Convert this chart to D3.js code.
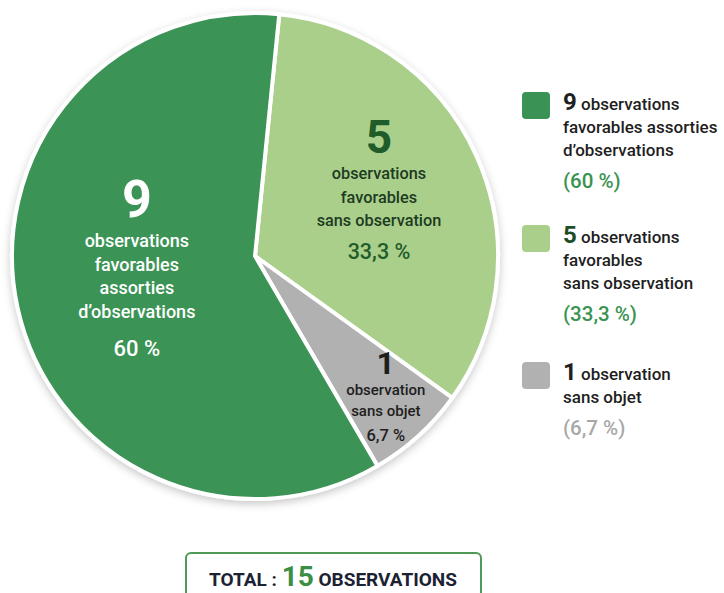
<!DOCTYPE html>
<html>
<head>
<meta charset="utf-8">
<script src="https://cdn.jsdelivr.net/npm/d3@7"></script>
<style>
  html, body { margin: 0; padding: 0; background: #fff; }
  svg text { font-family: Roboto, "Noto Sans", sans-serif; }
</style>
</head>
<body>
<svg id="chart"></svg>
<script>
// slices, in drawing order (clockwise from the top)
let counts = [5, 1, 9];
let percents = ["33,3 %", "6,7 %", "60 %"];
let sliceLines = [
    ["observations", "favorables", "sans observation"],
    ["observation", "sans objet"],
    ["observations", "favorables", "assorties", "d’observations"]
];
let colour = ["#aacf8b", "#b1b1b1", "#3a9355"];

// legend, in its own order (index into the slice arrays)
let legendOrder = [2, 0, 1];
let legendLines = [
    ["observations", "favorables assorties", "d’observations"],
    ["observations", "favorables", "sans observation"],
    ["observation", "sans objet"]
];

let width = 724,
    height = 593,
    radius = 243,
    cx = 255,
    cy = 256;

let svg = d3.select("#chart")
    .attr("width", width)
    .attr("height", height);

let defs = svg.append("defs");
let shadow = defs.append("filter").attr("id", "shadow")
    .attr("x", "-10%").attr("y", "-10%").attr("width", "120%").attr("height", "120%");
shadow.append("feDropShadow")
    .attr("dx", 0).attr("dy", 3).attr("stdDeviation", 4)
    .attr("flood-color", "#000").attr("flood-opacity", 0.22);

let startAngle = 0.1;

let pie = d3.pie()
    .value(d => d)
    .sort(null)
    .startAngle(startAngle)
    .endAngle(startAngle + 2 * Math.PI);

let arc = d3.arc()
    .innerRadius(0)
    .outerRadius(radius);

let g = svg.append("g")
    .attr("transform", "translate(" + cx + "," + cy + ")");

let arcs = pie(counts);

g.append("g").attr("filter", "url(#shadow)")
    .selectAll("path")
    .data(arcs)
    .enter().append("path")
    .attr("d", arc)
    .attr("fill", (d, i) => colour[i])
    .attr("stroke", "#fff")
    .attr("stroke-width", 4)
    .attr("stroke-linejoin", "round");

// label look for each slice
let labelStyle = [
    {r: 136, dx: 0, dy: -10, num: 46, size: 16.3, pct: 21.5, gapNum: 26, gap: 23.5, gapPct: 33, numCol: "#1f5c2a", col: "#1d3b22", pctCol: "#1f5c2a"},
    {r: 190, dx: 3, dy: 0, num: 32, size: 15, pct: 16.5, gapNum: 21, gap: 21, gapPct: 25, numCol: "#1e1e1e", col: "#1e1e1e", pctCol: "#1e1e1e"},
    {r: 122, dx: 1, dy: -14, num: 52, size: 18, pct: 22, gapNum: 30, gap: 23.5, gapPct: 38, numCol: "#fff", col: "#fff", pctCol: "#fff"}
];

arcs.forEach((d, i) => {
    let s = labelStyle[i];
    let lines = sliceLines[i];
    let la = d3.arc().innerRadius(s.r).outerRadius(s.r);
    let c = la.centroid(d);
    let numH = s.num * 0.71;
    let blockH = numH + s.gapNum + s.gap * (lines.length - 1) + s.gapPct;
    let top = c[1] + s.dy - blockH / 2;
    let x = c[0] + s.dx;
    let lg = g.append("g").attr("text-anchor", "middle");
    let y = top + numH;
    lg.append("text").attr("x", x).attr("y", y)
        .attr("font-size", s.num).attr("font-weight", 700)
        .attr("fill", s.numCol).text(counts[i]);
    y += s.gapNum;
    lines.forEach((t, k) => {
        if (k > 0) y += s.gap;
        lg.append("text").attr("x", x).attr("y", y)
            .attr("font-size", s.size).attr("font-weight", 500)
            .attr("fill", s.col).text(t);
    });
    y += s.gapPct;
    lg.append("text").attr("x", x).attr("y", y)
        .attr("font-size", s.pct).attr("font-weight", 500)
        .attr("fill", s.pctCol).text(percents[i]);
});

// legend
let legendTop = [92, 225, 362];
let legendPctCol = ["#3a9350", "#3a9350", "#a8a8a8"];

legendOrder.forEach((idx, k) => {
    let y0 = legendTop[k];
    let lg = svg.append("g");
    lg.append("rect")
        .attr("x", 522).attr("y", y0)
        .attr("width", 28).attr("height", 27)
        .attr("rx", 4)
        .attr("fill", colour[idx]);
    let lines = legendLines[k];
    lines.forEach((t, j) => {
        let txt = lg.append("text")
            .attr("x", 563).attr("y", y0 + 18 + j * 23)
            .attr("font-size", 17).attr("font-weight", 500)
            .attr("fill", "#1f1f1f");
        if (j === 0) {
            txt.append("tspan").attr("font-size", 24).attr("font-weight", 700)
                .attr("fill", idx === 0 ? "#1f4d26" : "#1f1f1f")
                .text(counts[idx]);
            txt.append("tspan").text(" " + t);
        } else {
            txt.text(t);
        }
    });
    lg.append("text")
        .attr("x", 563).attr("y", y0 + 18 + (lines.length - 1) * 23 + 32)
        .attr("font-size", 20.5).attr("font-weight", 500)
        .attr("fill", legendPctCol[k])
        .text("(" + percents[idx] + ")");
});

// total box
let total = d3.sum(counts);
svg.append("rect")
    .attr("x", 186).attr("y", 553)
    .attr("width", 295).attr("height", 60)
    .attr("rx", 5)
    .attr("fill", "#fff")
    .attr("stroke", "#4e9a57")
    .attr("stroke-width", 2);

let tt = svg.append("text")
    .attr("x", 333).attr("y", 586)
    .attr("text-anchor", "middle")
    .attr("font-size", 19).attr("font-weight", 700)
    .attr("fill", "#1b2233");
tt.append("tspan").text("TOTAL : ");
tt.append("tspan").attr("font-size", 28).attr("fill", "#3a8f45").text(total);
tt.append("tspan").text(" OBSERVATIONS");
</script>
</body>
</html>
